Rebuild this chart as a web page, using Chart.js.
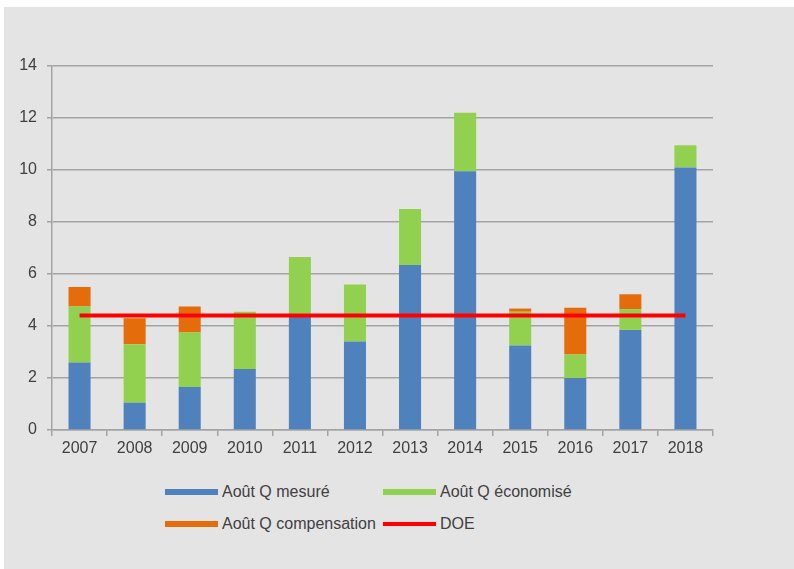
<!DOCTYPE html>
<html lang="fr">
<head>
<meta charset="utf-8">
<title>Août Q</title>
<script src="https://cdn.jsdelivr.net/npm/chart.js@4.4.1/dist/chart.umd.min.js"></script>
<style>
  body { margin: 0; background: #fff; font-family: "Liberation Sans", Arial, sans-serif; }
  .panel { position: absolute; left: 4px; top: 7px; width: 790px; height: 562px; background: #e4e4e4; }
  .chart-box { position: absolute; left: 0; top: 0; width: 790px; height: 460px; }
  .legend { position: absolute; left: 161px; top: 469px; display: grid; grid-template-columns: 218px 218px; }
  .legend-item { display: flex; align-items: center; height: 32px; font-size: 16px; color: #404040; white-space: nowrap; }
  .swatch { width: 53px; height: 6px; margin-right: 4px; }
</style>
</head>
<body>
<div class="panel">
  <div class="chart-box"><canvas id="chart"></canvas></div>
  <div class="legend" id="legend"></div>
</div>
<script>
const years = ['2007','2008','2009','2010','2011','2012','2013','2014','2015','2016','2017','2018'];
const mesure =       [2.6, 1.05, 1.65, 2.35, 4.35, 3.4, 6.35, 9.95, 3.25, 2.0, 3.85, 10.1];
const economise =    [2.15, 2.25, 2.1, 2.2, 2.3, 2.2, 2.15, 2.25, 1.3, 0.9, 0.8, 0.85];
const compensation = [0.75, 1.0, 1.0, 0, 0, 0, 0, 0, 0.12, 1.8, 0.57, 0];
const doe =          [4.4, 4.4, 4.4, 4.4, 4.4, 4.4, 4.4, 4.4, 4.4, 4.4, 4.4, 4.4];
const yTicks = [0, 2, 4, 6, 8, 10, 12, 14];

const gridColor = '#a3a3a3';
const textColor = '#404040';

// bars first, DOE line drawn on top
const datasets = [
  { type: 'bar', label: 'Août Q mesuré', data: mesure, backgroundColor: '#4f81bd', stack: 'q', order: 1 },
  { type: 'bar', label: 'Août Q économisé', data: economise, backgroundColor: '#92d050', stack: 'q', order: 1 },
  { type: 'bar', label: 'Août Q compensation', data: compensation, backgroundColor: '#e46c0a', stack: 'q', order: 1 },
  { type: 'line', label: 'DOE', data: doe, borderColor: '#ff0000', backgroundColor: '#ff0000',
    borderWidth: 4, pointRadius: 0, stack: 'doe', order: 0 }
];

const chart = new Chart(document.getElementById('chart'), {
  data: { labels: years, datasets: datasets },
  options: {
    responsive: true,
    maintainAspectRatio: false,
    animation: false,
    layout: { padding: { top: 59, right: 81, bottom: 0, left: 0 } },
    datasets: { bar: { barPercentage: 0.4, categoryPercentage: 1 } },
    plugins: { legend: { display: false }, tooltip: { enabled: false } },
    scales: {
      x: {
        stacked: true,
        offset: true,
        grid: { offset: true, drawOnChartArea: false, drawTicks: true, tickLength: 6, color: gridColor, lineWidth: 1.5 },
        border: { color: gridColor, width: 1.5 },
        ticks: { color: textColor, font: { family: '"Liberation Sans", Arial, sans-serif', size: 16 }, padding: 3, maxRotation: 0 },
        afterFit: (scale) => { scale.height = 37; }
      },
      y: {
        stacked: true,
        min: 0,
        max: 14,
        afterBuildTicks: (scale) => { scale.ticks = yTicks.map(v => ({ value: v })); },
        grid: { color: gridColor, lineWidth: 1.5, tickLength: 5 },
        border: { color: gridColor, width: 1.5 },
        ticks: { color: textColor, font: { family: '"Liberation Sans", Arial, sans-serif', size: 16 }, padding: 10 },
        afterFit: (scale) => { scale.width = 48; }
      }
    }
  }
});

// legend laid out in two columns like the original
const legend = document.getElementById('legend');
datasets.forEach(ds => {
  const item = document.createElement('div');
  item.className = 'legend-item';
  const sw = document.createElement('span');
  sw.className = 'swatch';
  sw.style.background = ds.type === 'line' ? ds.borderColor : ds.backgroundColor;
  if (ds.type === 'line') sw.style.height = '4px';
  const txt = document.createElement('span');
  txt.textContent = ds.label;
  item.appendChild(sw);
  item.appendChild(txt);
  legend.appendChild(item);
});
</script>
</body>
</html>
